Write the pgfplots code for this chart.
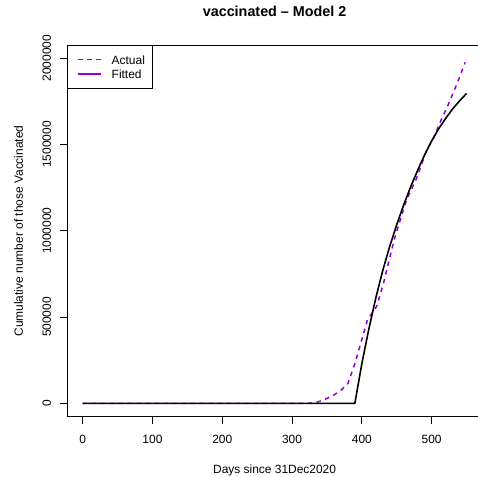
\documentclass[border=0pt]{standalone}
\usepackage{fontspec}
\setmainfont{Liberation Sans}
\usepackage{pgfplots}
\pgfplotsset{compat=1.18}
\definecolor{dv}{RGB}{148,0,211}
\begin{document}
\begin{tikzpicture}
\begin{axis}[
  at={(67.3bp,60.3bp)}, anchor=south west,
  scale only axis, width=414.6bp, height=371.4bp,
  xmin=-22, xmax=572, ymin=-77600, ymax=2074000,
  axis line style={line width=0.8bp},
  tick align=outside, tick pos=left, major tick length=7.2bp,
  every tick/.style={black, line width=0.8bp},
  xtick={0,100,200,300,400,500},
  xticklabels={0,100,200,300,400,500},
  ytick={0,500000,1000000,1500000,2000000},
  yticklabels={0,500000,1000000,1500000,2000000},
  scaled y ticks=false, scaled x ticks=false,
  tick label style={font=\fontsize{12}{14.4}\selectfont},
  xticklabel style={anchor=north, inner sep=0pt, yshift=-10.8bp},
  yticklabel style={xshift=-8.8bp, rotate=90, anchor=south, inner sep=0pt},
  title={vaccinated – Model 2},
  title style={at={(axis description cs:0.5,1)}, anchor=base, yshift=22.6bp, inner sep=0pt, font=\bfseries\fontsize{14.4}{17}\selectfont},
  xlabel={Days since 31Dec2020},
  xlabel style={at={(axis description cs:0.5,0)}, anchor=base, yshift=-56.6bp, inner sep=0pt, font=\fontsize{12}{14.4}\selectfont},
  ylabel={Cumulative number of those Vaccinated},
  ylabel style={at={(axis description cs:-0.1071,0.5)}, rotate=0, anchor=base, inner sep=0pt, font=\fontsize{12}{14.4}\selectfont},
  legend cell align=left,
  legend style={at={(axis description cs:0,1)}, anchor=north west, draw=black, line width=0.8bp,
    inner xsep=7.3bp, inner ysep=6.8bp, row sep=0pt,
    font=\fontsize{12}{14.4}\selectfont,
    nodes={inner sep=0pt, minimum height=14.4bp, text depth=0pt}},
]
\addlegendimage{legend image code/.code={\path[draw=none,fill=none] (0bp,-0.5bp) rectangle (36.7bp,0.5bp); \draw[draw=dv, line width=1.6bp, dash pattern=on 5bp off 4bp] (2.7bp,0bp) -- (25.7bp,0bp);}}
\addlegendentry{Actual}
\addlegendimage{legend image code/.code={\path[draw=none,fill=none] (0bp,-0.5bp) rectangle (36.7bp,0.5bp); \draw[draw=dv, line width=1.6bp, solid] (2.7bp,0bp) -- (25.7bp,0bp);}}
\addlegendentry{Fitted}
\addplot[forget plot, color=dv, line width=1.5bp, dash pattern=on 4.5bp off 4.5bp] coordinates {
(0,0)(320,0)(330,1000)(340,12000)(350,28000)(360,48000)(370,75000)(380,115000)
(390,230000)(400,370000)(408,483000)(415,525000)(421,560000)(431,695000)
(438,811000)(447,956000)(455,1062000)(464,1178000)(478,1300000)(493,1468000)
(502,1530000)(514,1645000)(523,1723000)(529,1781000)(537,1858000)(548,1975000)
};
\addplot[forget plot, black, line width=1.6bp] coordinates {
(0,0)(390,0)(400,230000)(410,430000)(420,610000)(430,770000)(440,910000)
(450,1035000)(460,1150000)(470,1255000)(480,1350000)(490,1440000)(500,1520000)
(510,1590000)(520,1650000)(530,1705000)(540,1752000)(550,1795000)
};
\end{axis}
\pgfresetboundingbox
\path[use as bounding box] (0,0) rectangle (478bp,477bp);
\end{tikzpicture}
\end{document}
